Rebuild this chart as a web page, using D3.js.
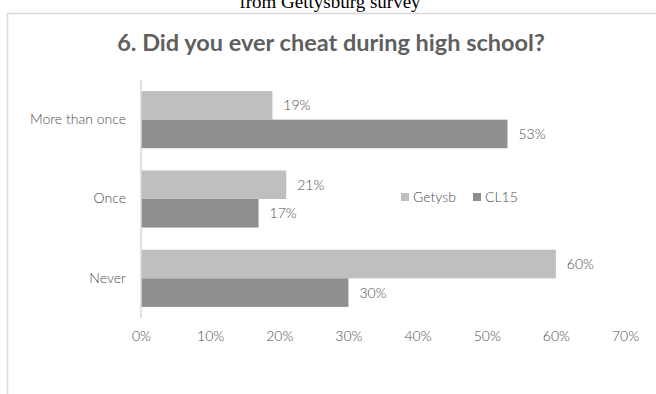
<!DOCTYPE html>
<html>
<head>
<meta charset="utf-8">
<script src="https://cdn.jsdelivr.net/npm/d3@7"></script>
<style>
  html, body { margin: 0; padding: 0; background: #fff; }
  svg { display: block; }
</style>
</head>
<body>
<div id="chart"></div>
<script>
// Survey answers, share of respondents
const categories = ["More than once", "Once", "Never"];
const seriesNames = ["Getysb", "CL15"];
const getysbValues = [0.19, 0.21, 0.60];
const cl15Values = [0.53, 0.17, 0.30];
const tickValues = [0, 0.1, 0.2, 0.3, 0.4, 0.5, 0.6, 0.7];
const colors = ["#bfbfbf", "#8f8f8f"];

const W = 656, H = 394;
const svg = d3.select("#chart").append("svg").attr("width", W).attr("height", H);
const font = "Lato, 'Open Sans', sans-serif";
const titleColor = "#5f5f5f";
const textColor = "#4d4d4d";
const labelSize = 14;
const labelWeight = 300;

// caption above the chart frame
svg.append("text")
  .attr("x", 330).attr("y", 8)
  .attr("text-anchor", "middle")
  .attr("font-family", "'Liberation Serif', 'DejaVu Serif', serif")
  .attr("font-size", 19)
  .attr("fill", "#000")
  .text("from Gettysburg survey");

// chart frame
svg.append("rect")
  .attr("x", 7.5).attr("y", 13.5)
  .attr("width", 660).attr("height", 400)
  .attr("fill", "#fff")
  .attr("stroke", "#d9d9d9").attr("stroke-width", 1.5);

svg.append("text")
  .attr("x", 331).attr("y", 51)
  .attr("text-anchor", "middle")
  .attr("font-family", font)
  .attr("font-weight", "bold")
  .attr("font-size", 23.5)
  .attr("fill", titleColor)
  .text("6. Did you ever cheat during high school?");

const x = d3.scaleLinear().domain([0, 0.7]).range([141, 625]);
const y = d3.scaleBand().domain(categories).range([80, 318]).paddingInner(0.28).paddingOuter(0.14);
const ySub = d3.scaleBand().domain(seriesNames).range([0, y.bandwidth()]);

const data = categories.map((c, i) => ({
  cat: c,
  vals: [
    { s: seriesNames[0], v: getysbValues[i], color: colors[0] },
    { s: seriesNames[1], v: cl15Values[i], color: colors[1] }
  ]
}));

const groups = svg.append("g").selectAll("g").data(data).join("g")
  .attr("transform", d => `translate(0,${y(d.cat)})`);

groups.selectAll("rect").data(d => d.vals).join("rect")
  .attr("x", x(0))
  .attr("y", d => ySub(d.s))
  .attr("width", d => x(d.v) - x(0))
  .attr("height", ySub.bandwidth())
  .attr("fill", d => d.color);

groups.selectAll("text.val").data(d => d.vals).join("text")
  .attr("class", "val")
  .attr("x", d => x(d.v) + 11)
  .attr("y", d => ySub(d.s) + ySub.bandwidth() / 2)
  .attr("dy", "0.35em")
  .attr("font-family", font)
  .attr("font-size", labelSize)
  .attr("font-weight", labelWeight)
  .attr("fill", textColor)
  .text(d => d3.format(".0%")(d.v));

// category axis
const yAxis = svg.append("g")
  .attr("transform", `translate(${x(0)},0)`)
  .call(d3.axisLeft(y).tickSize(0).tickPadding(15));
yAxis.select(".domain").attr("stroke", "#d9d9d9").attr("stroke-width", 1.5)
  .attr("d", `M0,${y.range()[0]}V${y.range()[1]}`);
yAxis.selectAll("text").attr("font-family", font).attr("font-size", labelSize)
  .attr("font-weight", labelWeight).attr("fill", textColor);

// value axis (labels only)
const xAxis = svg.append("g")
  .attr("transform", `translate(0,331)`)
  .call(d3.axisBottom(x).tickValues(tickValues).tickFormat(d3.format(".0%")).tickSize(0).tickPadding(0));
xAxis.select(".domain").remove();
xAxis.selectAll("text").attr("font-family", font).attr("font-size", labelSize)
  .attr("font-weight", labelWeight).attr("fill", textColor);

// legend
const legend = svg.append("g").attr("transform", "translate(401,197)");
const items = [{ n: seriesNames[0], c: colors[0], x: 0 }, { n: seriesNames[1], c: colors[1], x: 72 }];
items.forEach(it => {
  legend.append("rect").attr("x", it.x).attr("y", -4).attr("width", 8).attr("height", 8).attr("fill", it.c);
  legend.append("text").attr("x", it.x + 12).attr("y", 0).attr("dy", "0.35em")
    .attr("font-family", font).attr("font-size", labelSize).attr("font-weight", labelWeight)
    .attr("fill", textColor).text(it.n);
});
</script>
</body>
</html>
